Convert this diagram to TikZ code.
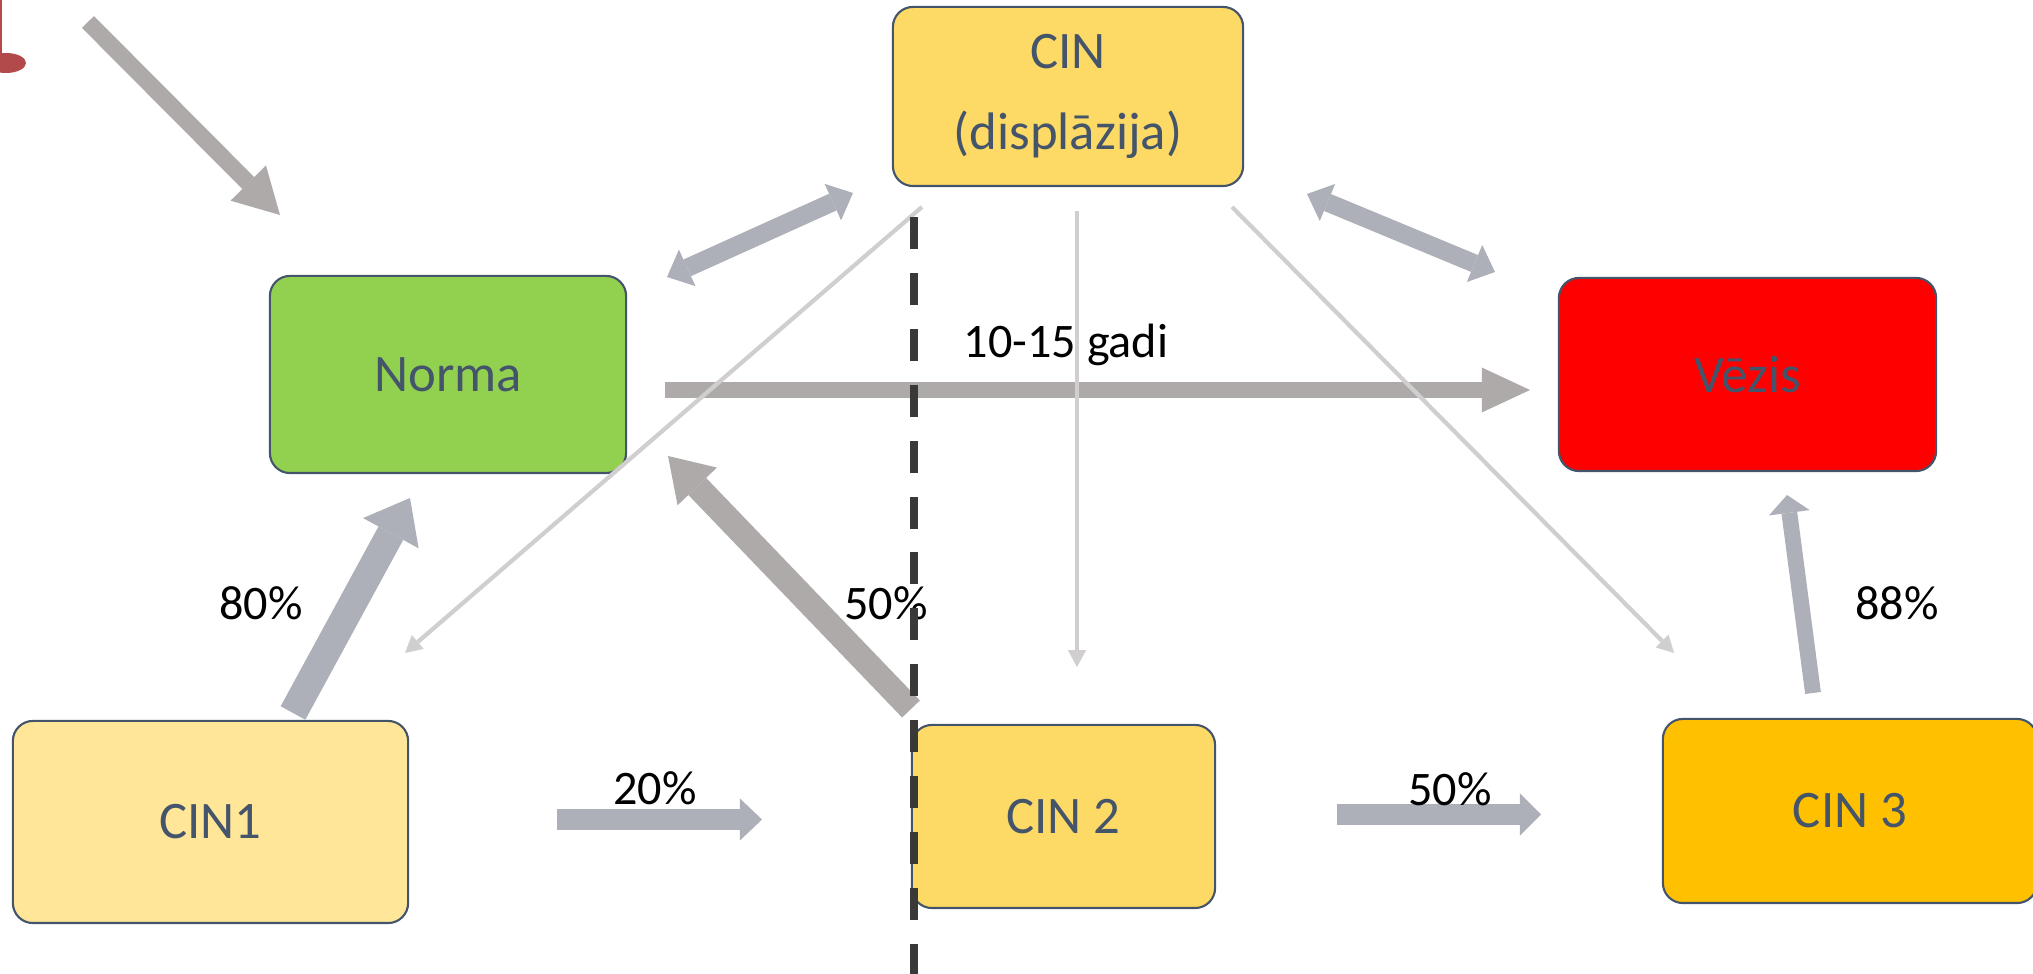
\documentclass[tikz,border=0pt]{standalone}
\usepackage{fontspec}
\setmainfont{Carlito}
\usetikzlibrary{arrows.meta}

\definecolor{txt}{HTML}{44546A}
\definecolor{agray}{HTML}{AEAAAA}
\definecolor{ablue}{HTML}{ADB0B8}
\definecolor{lgray}{HTML}{D0CECE}
\definecolor{dline}{HTML}{3B3838}
\definecolor{cgreen}{HTML}{92D050}
\definecolor{cyel}{HTML}{FDD966}
\definecolor{clight}{HTML}{FFE699}
\definecolor{corange}{HTML}{FFC000}
\definecolor{blob}{HTML}{B24A4C}

\tikzset{
	box/.style={draw=txt, line width=0.6pt, rounded corners=0.2cm, inner sep=0pt,
		text=txt, align=center, font=\fontsize{15}{18}\selectfont},
	lbl/.style={inner sep=0pt, font=\fontsize{13.7}{16}\selectfont},
	grayarr/.style={draw=agray, line width=4.8pt},
	bluarr/.style={draw=ablue, line width=5.2pt},
	thinarr/.style={draw=lgray, line width=1.2pt,
		-{Triangle[length=4.8pt,width=5.2pt,line width=0pt]}},
	divider/.style={draw=dline, line width=2.3pt, dash pattern=on 9.1pt off 6.8pt}
}

\begin{document}
\begin{tikzpicture}[x=0.01cm,y=-0.01cm]
	
	\useasboundingbox (0,0) rectangle (2033,974);
	
	% boxes
	\node[box, fill=cyel, minimum width=3.5cm, minimum height=1.79cm] (cin) at (1068,96.5) {CIN\\[4.8pt](displāzija)};
	\node[box, fill=cgreen, minimum width=3.56cm, minimum height=1.97cm] (norma) at (448,374.5) {Norma};
	\node[box, fill=red, minimum width=3.77cm, minimum height=1.93cm] (vezis) at (1747.5,374.5) {Vēzis};
	\node[box, fill=clight, minimum width=3.95cm, minimum height=2.02cm] (cin1) at (210.5,822) {CIN1};
	\node[box, fill=cyel, minimum width=3.03cm, minimum height=1.83cm] (cin2) at (1063.5,816.5) {CIN 2};
	\node[box, fill=corange, minimum width=3.74cm, minimum height=1.84cm] (cin3) at (1850,811) {CIN 3};
	
	% red mark at the corner
	\fill[blob] (6,63) ellipse [x radius=0.2cm, y radius=0.1cm];
	\draw[blob, line width=0.8pt] (1,0) -- (1,54);
	
	\coordinate (tl1) at (88,22);
	\coordinate (tl2) at (280,215);
	\coordinate (dn1) at (667,277);
	\coordinate (dn2) at (853,193);
	\coordinate (dv1) at (1307,194);
	\coordinate (dv2) at (1495,272);
	\coordinate (nv1) at (665,390);
	\coordinate (nv2) at (1530,390);
	\coordinate (c1n1) at (293,713);
	\coordinate (c1n2) at (410,498);
	\coordinate (c2n1) at (911,709);
	\coordinate (c2n2) at (668,456);
	\coordinate (c3v1) at (1813,693);
	\coordinate (c3v2) at (1787,495);
	\coordinate (c12a) at (557,819.5);
	\coordinate (c12b) at (762,819.5);
	\coordinate (c23a) at (1337,814.5);
	\coordinate (c23b) at (1541,814.5);
	
	% thick arrows
	\draw[grayarr, -{Triangle[length=12.8pt,width=14.2pt,line width=0pt]}] (tl1) -- (tl2);
	\draw[bluarr, {Triangle[length=6.3pt,width=11.4pt,line width=0pt]}-{Triangle[length=6.3pt,width=11.4pt,line width=0pt]}] (dn1) -- (dn2);
	\draw[bluarr, {Triangle[length=6.3pt,width=11.4pt,line width=0pt]}-{Triangle[length=6.3pt,width=11.4pt,line width=0pt]}] (dv1) -- (dv2);
	\draw[grayarr, line width=4.6pt, -{Triangle[length=13.7pt,width=12.8pt,line width=0pt]}] (nv1) -- (nv2);
	\draw[bluarr, line width=8pt, -{Triangle[length=11.4pt,width=18pt,line width=0pt]}] (c1n1) -- (c1n2);
	\draw[grayarr, line width=7pt, -{Triangle[length=12pt,width=15.5pt,line width=0pt]}] (c2n1) -- (c2n2);
	\draw[bluarr, line width=4.5pt, -{Triangle[length=5.1pt,width=11.7pt,line width=0pt]}] (c3v1) -- (c3v2);
	\draw[bluarr, line width=6pt, -{Triangle[length=6.3pt,width=12pt,line width=0pt]}] (c12a) -- (c12b);
	\draw[bluarr, line width=6pt, -{Triangle[length=6pt,width=12pt,line width=0pt]}] (c23a) -- (c23b);
	
	% thin arrows out of CIN
	\coordinate (t1a) at (922,207);
	\coordinate (t1b) at (405,653);
	\coordinate (t2a) at (1077,211);
	\coordinate (t2b) at (1077,667);
	\coordinate (t3a) at (1232,207);
	\coordinate (t3b) at (1674,653);
	\draw[thinarr] (t1a) -- (t1b);
	\draw[thinarr] (t2a) -- (t2b);
	\draw[thinarr] (t3a) -- (t3b);
	
	% labels
	\node[lbl] (l1015) at (1066,345) {10-15 gadi};
	\node[lbl] (l80) at (261,603) {80\%};
	\node[lbl] (l50a) at (886,603) {50\%};
	\node[lbl] (l20) at (655,788) {20\%};
	\node[lbl] (l50b) at (1450,789) {50\%};
	\node[lbl] (l88) at (1897,603) {88\%};
	
	\coordinate (d1) at (914,217);
	\coordinate (d2) at (914,980);
	\draw[divider] (d1) -- (d2);
	
\end{tikzpicture}
\end{document}
